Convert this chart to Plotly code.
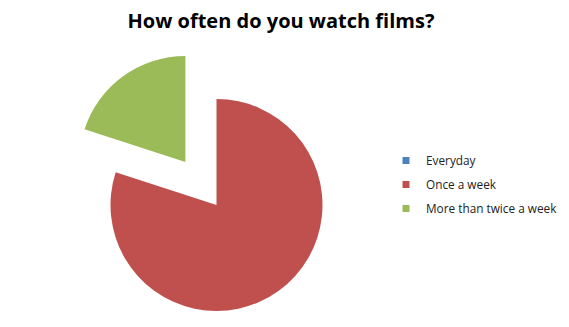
import math
import plotly.graph_objects as go

# Survey answers: "How often do you watch films?"
labels = ["Everyday", "Once a week", "More than twice a week"]
values = [0, 80, 20]
colors = ["#4F81BD", "#C0504D", "#9BBB59"]
exploded = "More than twice a week"
explode_pull = 0.5

W, H = 569, 327
cx, cy, r = 216.5, 205.0, 106.0  # pie centre and radius in pixels


def domain_at(x0, y0, rad):
    return dict(
        x=[(x0 - rad) / W, (x0 + rad) / W],
        y=[1 - (y0 + rad) / H, 1 - (y0 - rad) / H],
    )


clear = "rgba(0,0,0,0)"
k = labels.index(exploded)

# angle of the exploded slice's middle, measured clockwise from 12 o'clock
total = sum(values)
mid = (sum(values[:k]) + values[k] / 2) / total * 2 * math.pi
ex = cx + explode_pull * r * math.sin(mid)
ey = cy - explode_pull * r * math.cos(mid)

fig = go.Figure()

# main body of the pie (exploded slice left empty)
fig.add_trace(go.Pie(
    labels=labels, values=values, sort=False, direction="clockwise", rotation=0,
    marker=dict(colors=[c if i != k else clear for i, c in enumerate(colors)],
                line=dict(width=0)),
    textinfo="none", showlegend=False, domain=domain_at(cx, cy, r),
))

# the exploded slice, shifted outward along its bisector
fig.add_trace(go.Pie(
    labels=labels, values=values, sort=False, direction="clockwise", rotation=0,
    marker=dict(colors=[c if i == k else clear for i, c in enumerate(colors)],
                line=dict(width=0)),
    textinfo="none", showlegend=False, domain=domain_at(ex, ey, r),
))

# legend entries with small square keys
for lab, col in zip(labels, colors):
    fig.add_trace(go.Scatter(
        x=[None], y=[None], mode="markers", name=lab, legendgroup=lab,
        marker=dict(symbol="square", size=7, color=col),
    ))

fig.update_layout(
    width=W, height=H,
    margin=dict(l=0, r=0, t=0, b=0),
    paper_bgcolor="white", plot_bgcolor="white",
    xaxis=dict(visible=False), yaxis=dict(visible=False),
    title=dict(
        text="<b>How often do you watch films?</b>",
        font=dict(family="Open Sans", size=20, color="black"),
        x=281 / W, xanchor="center", xref="container",
        y=1 - 21 / H, yanchor="middle", yref="container",
    ),
    legend=dict(
        x=386 / W, xanchor="left", y=1 - 146 / H, yanchor="top",
        font=dict(family="Open Sans", size=11.8, color="#222222"),
        tracegroupgap=5, bgcolor="rgba(0,0,0,0)", traceorder="grouped",
    ),
)

fig.write_html("out.html")
